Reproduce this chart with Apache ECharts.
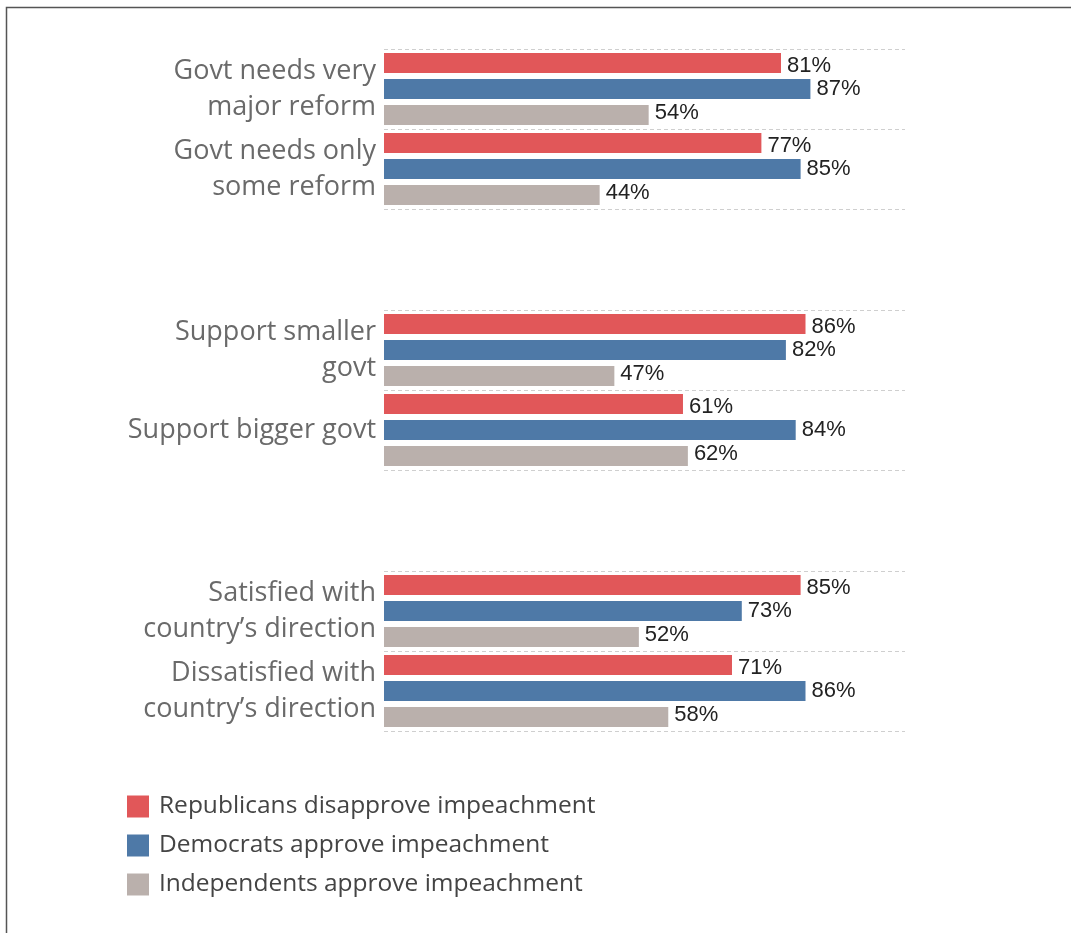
<!DOCTYPE html>
<html><head><meta charset="utf-8">
<script src="https://cdn.jsdelivr.net/npm/echarts@6/dist/echarts.min.js"></script>
<style>html,body{margin:0;padding:0;background:#fff}#c{width:1071px;height:933px}</style>
</head><body><div id="c"></div>
<script>
const seriesNames = ['Republicans disapprove impeachment', 'Democrats approve impeachment', 'Independents approve impeachment'];
const colors = ['#E15759', '#4E79A7', '#BAB0AC'];
const categories1 = ['Govt needs very\nmajor reform', 'Govt needs only\nsome reform'];
const categories2 = ['Support smaller\ngovt', 'Support bigger govt'];
const categories3 = ['Satisfied with\ncountry\u2019s direction', 'Dissatisfied with\ncountry\u2019s direction'];
const rep1 = [81, 77], dem1 = [87, 85], ind1 = [54, 44];
const rep2 = [86, 61], dem2 = [82, 84], ind2 = [47, 62];
const rep3 = [85, 71], dem3 = [73, 86], ind3 = [52, 58];

const panels = [
  {cats: categories1, vals: [rep1, dem1, ind1], top: 49},
  {cats: categories2, vals: [rep2, dem2, ind2], top: 310},
  {cats: categories3, vals: [rep3, dem3, ind3], top: 571}
];
const labelFont = 'Open Sans';
const grids = [], xAxes = [], yAxes = [], series = [];
const labelOffsets = [[0, 3], [0, 0], [0, -2]];
panels.forEach((p, i) => {
  grids.push({left: 384, width: 521, top: p.top, height: 160});
  xAxes.push({type: 'value', gridIndex: i, min: 0, max: 106.3, show: false});
  yAxes.push({
    type: 'category', gridIndex: i, data: p.cats, inverse: true,
    axisLine: {show: false}, axisTick: {show: false},
    splitLine: {show: true, lineStyle: {type: [4, 3], color: '#cfcfcf', width: 1}},
    axisLabel: {fontFamily: labelFont, fontSize: 27, color: '#6a6a6a', lineHeight: 36, margin: 8}
  });
  p.vals.forEach((v, s) => {
    series.push({
      type: 'bar', name: seriesNames[s], xAxisIndex: i, yAxisIndex: i, data: v,
      barWidth: 20, barGap: '30%',
      itemStyle: {color: colors[s]},
      label: {show: true, position: 'right', distance: 6, formatter: '{c}%', fontFamily: 'Liberation Sans', fontSize: 22, color: '#222', offset: labelOffsets[s]},
      emphasis: {disabled: true}, animation: false
    });
  });
});
const chart = echarts.init(document.getElementById('c'), null, {renderer: 'canvas'});
chart.setOption({
  animation: false,
  color: colors,
  grid: grids, xAxis: xAxes, yAxis: yAxes, series: series,
  legend: {
    orient: 'vertical', left: 122, top: 789, itemWidth: 22, itemHeight: 22, itemGap: 14,
    icon: 'rect', data: seriesNames, selectedMode: false,
    textStyle: {fontFamily: labelFont, fontSize: 24.5, lineHeight: 22, color: '#444', padding: [0, 0, 0, 5]}
  },
  graphic: [{type: 'rect', shape: {x: 6.5, y: 7.5, width: 1200, height: 1200}, style: {fill: 'none', stroke: '#555', lineWidth: 1.5}, silent: true}]
});
</script></body></html>
